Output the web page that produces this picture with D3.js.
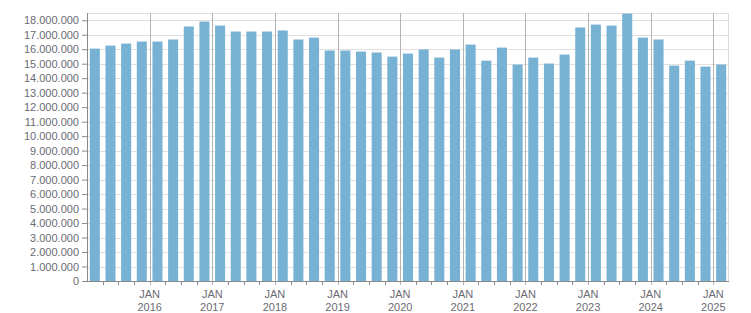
<!DOCTYPE html>
<html>
<head>
<meta charset="utf-8">
<script src="https://cdn.jsdelivr.net/npm/d3@7"></script>
<style>
  body { margin: 0; background: #fff; }
  #plot text { font-family: "Liberation Sans", Arial, sans-serif; font-size: 11px; fill: #6b6b73; }
</style>
</head>
<body>
<div id="plot"></div>
<script>
// quarterly values, 2015 Q1 .. 2025 Q1
const years = [2015, 2016, 2017, 2018, 2019, 2020, 2021, 2022, 2023, 2024, 2025];
const quarters = [];
years.forEach(y => [1, 2, 3, 4].forEach(q => { if (y < 2025 || q === 1) quarters.push(y + "-Q" + q); }));

const values = [
  16040000, 16250000, 16390000, 16530000,
  16530000, 16670000, 17570000, 17910000,
  17630000, 17220000, 17220000, 17220000,
  17290000, 16670000, 16800000, 15910000,
  15910000, 15840000, 15770000, 15490000,
  15700000, 15980000, 15420000, 15980000,
  16320000, 15210000, 16110000, 14940000,
  15420000, 15010000, 15630000, 17500000,
  17700000, 17630000, 18460000, 16800000,
  16670000, 14870000, 15210000, 14800000,
  14940000
];

const yTicks = d3.range(0, 18000001, 1000000);
const yearLabels = years.slice(1).map(String);

function fmt(v) {
  return v === 0 ? "0" : d3.format(",")(v).replace(/,/g, ".");
}

function drawPlot() {
  const W = 751, H = 313;
  const margin = { top: 13, right: 22, bottom: 32, left: 87 };
  const width = W - margin.left - margin.right;
  const height = H - margin.top - margin.bottom;

  const svg = d3.select("#plot").append("svg")
    .attr("width", W).attr("height", H);
  const g = svg.append("g")
    .attr("transform", "translate(" + margin.left + "," + margin.top + ")");

  const x = d3.scaleBand()
    .domain(quarters)
    .range([0, width])
    .paddingInner(0.36)
    .paddingOuter(0.18);
  const step = x.step();
  const edge = i => i * step; // band boundary

  const y = d3.scaleLinear()
    .domain([0, 18500000])
    .range([height, 0]);

  // horizontal grid
  g.append("g").selectAll("line")
    .data(yTicks.slice(1))
    .enter().append("line")
    .attr("x1", 0).attr("x2", width)
    .attr("y1", d => Math.round(y(d)) + 0.5).attr("y2", d => Math.round(y(d)) + 0.5)
    .attr("stroke", "#e0e0e0");

  // frame top + right
  g.append("path")
    .attr("d", "M0,0.5H" + (width - 0.5) + "V" + height)
    .attr("fill", "none").attr("stroke", "#dedede");

  // bars
  g.append("g").selectAll("rect")
    .data(values)
    .enter().append("rect")
    .attr("x", (d, i) => x(quarters[i]))
    .attr("width", x.bandwidth())
    .attr("y", d => y(d))
    .attr("height", d => height - y(d))
    .attr("fill", "#77b1d3");

  // minor ticks at every band boundary
  g.append("g").selectAll("line")
    .data(d3.range(1, quarters.length))
    .enter().append("line")
    .attr("x1", i => Math.round(edge(i)) + 0.5).attr("x2", i => Math.round(edge(i)) + 0.5)
    .attr("y1", height).attr("y2", height + 4)
    .attr("stroke", "#8a8a8a");

  // January lines
  const janIdx = yearLabels.map((yr, k) => (k + 1) * 4);
  g.append("g").selectAll("line")
    .data(janIdx)
    .enter().append("line")
    .attr("x1", i => Math.round(edge(i)) + 0.5).attr("x2", i => Math.round(edge(i)) + 0.5)
    .attr("y1", 0).attr("y2", height + 4)
    .attr("stroke", "#b3b3b3");

  // x labels
  const xl = g.append("g").selectAll("text")
    .data(janIdx)
    .enter().append("text")
    .attr("text-anchor", "middle")
    .attr("x", i => edge(i));
  xl.append("tspan").attr("x", i => edge(i)).attr("y", height + 17).text("JAN");
  xl.append("tspan").attr("x", i => edge(i)).attr("y", height + 30).text((d, k) => yearLabels[k]);

  // y axis
  const yAxis = g.append("g")
    .call(d3.axisLeft(y).tickValues(yTicks).tickSize(5).tickPadding(3).tickFormat(fmt));
  yAxis.select(".domain").attr("stroke", "#8a8a8a").attr("d", "M0.5,0V" + height);
  yAxis.selectAll(".tick line").attr("stroke", "#8a8a8a");
  yAxis.selectAll("text").attr("font-family", null).attr("font-size", null);

  // bottom axis line
  g.append("line")
    .attr("x1", 0).attr("x2", width)
    .attr("y1", height + 0.5).attr("y2", height + 0.5)
    .attr("stroke", "#8a8a8a");
}

drawPlot();
</script>
</body>
</html>
